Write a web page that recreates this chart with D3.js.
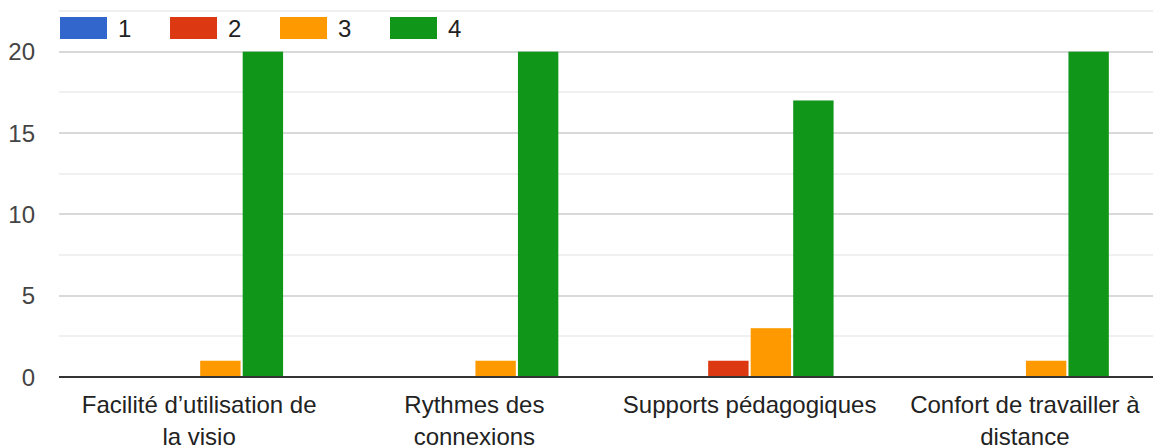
<!DOCTYPE html>
<html>
<head>
<meta charset="utf-8">
<script src="https://cdn.jsdelivr.net/npm/d3@7"></script>
<style>
body { margin: 0; background: #fff; overflow: hidden; }
text { font-family: Arial, "Liberation Sans", sans-serif; fill: #222; }
</style>
</head>
<body>
<div id="chart"></div>
<script>
var WIDTH = 1153
var HEIGHT = 446

var categories = ["Facilité d’utilisation de la visio", "Rythmes des connexions", "Supports pédagogiques", "Confort de travailler à distance"]
var labelLines = [["Facilité d’utilisation de", "la visio"], ["Rythmes des", "connexions"], ["Supports pédagogiques"], ["Confort de travailler à", "distance"]]
var series = ["1", "2", "3", "4"]
var colors = ["#3366cc", "#dc3912", "#ff9900", "#109618"]
var s1 = [0, 0, 0, 0]
var s2 = [0, 0, 1, 0]
var s3 = [1, 1, 3, 1]
var s4 = [20, 20, 17, 20]
var yTicks = [0, 5, 10, 15, 20]
var yMinor = [2.5, 7.5, 12.5, 17.5, 22.5]

var values = [s1, s2, s3, s4]

var ml = 59, mt = 11, mb = 377
// band range is slightly offset from the grid start, as in the original
var bandL = 61.5, bandR = 1162.5

var svg = d3.select("#chart").append("svg")
    .attr("width", WIDTH)
    .attr("height", HEIGHT)
    .style("display", "block")

var y = d3.scaleLinear().domain([0, 22.5]).range([mb, mt])

var x0 = d3.scaleBand().domain(categories).range([bandL, bandR])
    .paddingInner(0.39).paddingOuter(0.195)

var x1 = d3.scaleBand().domain(series).range([0, x0.bandwidth()])
    .paddingInner(0.05)

// gridlines
svg.selectAll(".minor")
    .data(yMinor)
    .enter()
    .append("line")
    .attr("x1", ml).attr("x2", WIDTH)
    .attr("y1", function(d){ return Math.round(y(d)) })
    .attr("y2", function(d){ return Math.round(y(d)) })
    .attr("stroke", "#ebebeb")
    .attr("stroke-width", 1.5)

svg.selectAll(".major")
    .data(yTicks.slice(1))
    .enter()
    .append("line")
    .attr("x1", ml).attr("x2", WIDTH)
    .attr("y1", function(d){ return Math.round(y(d)) })
    .attr("y2", function(d){ return Math.round(y(d)) })
    .attr("stroke", "#cccccc")
    .attr("stroke-width", 1.5)

svg.selectAll(".ytick")
    .data(yTicks)
    .enter()
    .append("text")
    .attr("x", 35)
    .attr("y", function(d){ return y(d) + 8.5 })
    .attr("text-anchor", "end")
    .attr("font-size", 24)
    .style("fill", "#444")
    .text(function(d){ return d })

// bars
var groups = svg.selectAll(".group")
    .data(categories)
    .enter()
    .append("g")
    .attr("transform", function(d){ return "translate(" + x0(d) + ",0)" })

groups.selectAll("rect")
    .data(function(d, i){
        return series.map(function(s, j){ return {s: s, v: values[j][i], c: colors[j]} })
    })
    .enter()
    .append("rect")
    .attr("x", function(d){ return x1(d.s) })
    .attr("width", x1.bandwidth())
    .attr("y", function(d){ return y(d.v) })
    .attr("height", function(d){ return mb - y(d.v) })
    .attr("fill", function(d){ return d.c })

// baseline
svg.append("line")
    .attr("x1", ml).attr("x2", WIDTH)
    .attr("y1", mb).attr("y2", mb)
    .attr("stroke", "#333")
    .attr("stroke-width", 2)

// x labels
groups.each(function(d, i){
    var t = d3.select(this).append("text")
        .attr("text-anchor", "middle")
        .attr("font-size", 24)
        .style("fill", "#222")
    labelLines[i].forEach(function(line, k){
        t.append("tspan")
            .attr("x", x0.bandwidth() / 2)
            .attr("y", 413 + k * 32)
            .text(line)
    })
})

// legend
var legend = svg.selectAll(".legend")
    .data(series)
    .enter()
    .append("g")
    .attr("transform", function(d, i){ return "translate(" + (60 + i * 110) + ",17)" })

legend.append("rect")
    .attr("width", 47).attr("height", 22)
    .attr("fill", function(d, i){ return colors[i] })

legend.append("text")
    .attr("x", 58).attr("y", 19.5)
    .attr("font-size", 24)
    .text(function(d){ return d })
</script>
</body>
</html>
